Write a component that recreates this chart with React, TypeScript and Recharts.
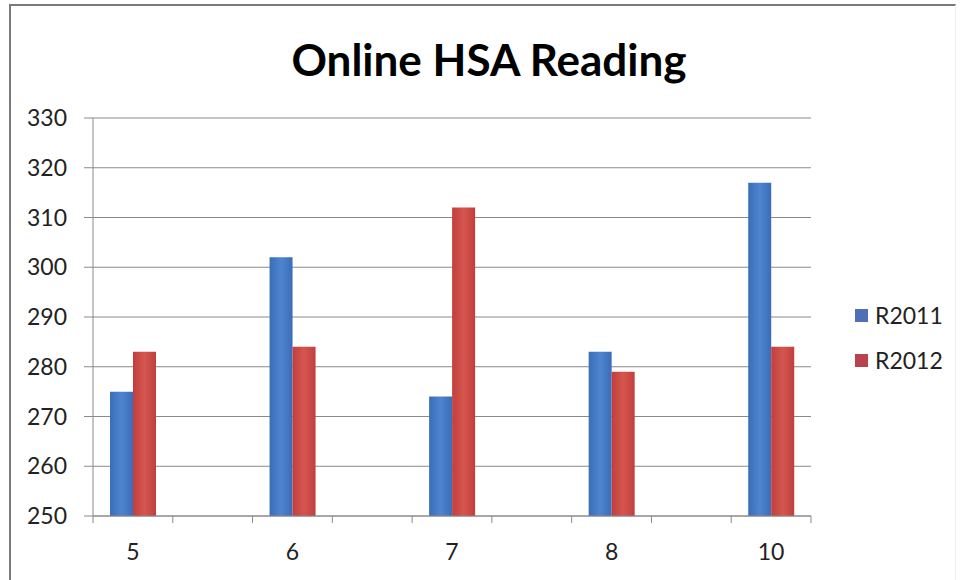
import React from 'react';
import { BarChart, Bar, XAxis, YAxis, CartesianGrid } from 'recharts';

const categories = ['5', '', '6', '', '7', '', '8', '', '10'];
const r2011 = [275, null, 302, null, 274, null, 283, null, 317];
const r2012 = [283, null, 284, null, 312, null, 279, null, 284];
const yTicks = [250, 260, 270, 280, 290, 300, 310, 320, 330];
const seriesNames = ['R2011', 'R2012'];
const title = 'Online HSA Reading';

const data = categories.map((c, i) => ({
  pos: i + 0.5,
  label: c,
  R2011: r2011[i],
  R2012: r2012[i],
}));

const xTicks: number[] = [];
for (let i = 0; i <= categories.length * 2; i++) xTicks.push(i / 2);

const FONT = 'Lato, "DejaVu Sans", sans-serif';
const GRID = '#8a8a8a';

const XTick = (props: any) => {
  const { x, y, payload } = props;
  const v = payload.value as number;
  if (Number.isInteger(v)) {
    return <line x1={x} x2={x} y1={y} y2={y + 7} stroke={GRID} strokeWidth={1} />;
  }
  const label = categories[Math.floor(v)];
  return (
    <text x={x} y={y + 35} textAnchor="middle" dominantBaseline="central" fontFamily={FONT} fontSize={23} fill="#222">
      {label}
    </text>
  );
};

const legendColors = ['#4f6fb6', '#b8434f'];

export default function App() {
  return (
    <div style={{ position: 'absolute', left: 0, top: 0, width: 961, height: 580, background: '#fff', overflow: 'hidden' }}>
      <div style={{ position: 'absolute', left: 9, top: 4, width: 944, height: 600, borderLeft: '2px solid #7a7a7a', borderTop: '2px solid #7a7a7a', borderRight: '1px solid #eeeeee' }} />
      <div style={{ position: 'absolute', left: 239, width: 500, top: 37, textAlign: 'center', fontFamily: FONT, fontWeight: 700, fontSize: 44, lineHeight: '44px', color: '#000' }}>
        {title}
      </div>
      <div style={{ position: 'absolute', left: 0, top: 0 }}>
        <BarChart width={961} height={580} data={data} margin={{ top: 118, right: 150, bottom: 0, left: 0 }} barGap={0}>
          <defs>
            <linearGradient id="gBlue" x1="0" y1="0" x2="1" y2="0">
              <stop offset="0%" stopColor="#3b6db8" />
              <stop offset="50%" stopColor="#4d84d0" />
              <stop offset="100%" stopColor="#3b6db8" />
            </linearGradient>
            <linearGradient id="gRed" x1="0" y1="0" x2="1" y2="0">
              <stop offset="0%" stopColor="#c23e3e" />
              <stop offset="50%" stopColor="#d4564e" />
              <stop offset="100%" stopColor="#c23e3e" />
            </linearGradient>
          </defs>
          <CartesianGrid horizontal vertical={false} stroke={GRID} />
          <XAxis
            dataKey="pos"
            type="number"
            domain={[0, categories.length]}
            ticks={xTicks}
            interval={0}
            height={64}
            tickSize={0}
            tickMargin={0}
            tickLine={false}
            axisLine={{ stroke: GRID }}
            tick={<XTick />}
          />
          <YAxis
            domain={[250, 330]}
            ticks={yTicks}
            interval={0}
            width={93}
            tickSize={9}
            tickMargin={17}
            tickLine={{ stroke: GRID }}
            axisLine={{ stroke: GRID }}
            tick={{ fontFamily: FONT, fontSize: 23, fill: '#222' }}
            allowDataOverflow
          />
          <Bar dataKey="R2011" name={seriesNames[0]} fill="url(#gBlue)" barSize={23} isAnimationActive={false} />
          <Bar dataKey="R2012" name={seriesNames[1]} fill="url(#gRed)" barSize={23} isAnimationActive={false} />
        </BarChart>
      </div>
      {seriesNames.map((n, i) => (
        <div key={n} style={{ position: 'absolute', left: 855, top: 303 + i * 45, height: 24, display: 'flex', alignItems: 'center', fontFamily: FONT, fontSize: 23, color: '#222' }}>
          <span style={{ display: 'inline-block', width: 13, height: 13, background: legendColors[i], marginRight: 7 }} />
          {n}
        </div>
      ))}
    </div>
  );
}
